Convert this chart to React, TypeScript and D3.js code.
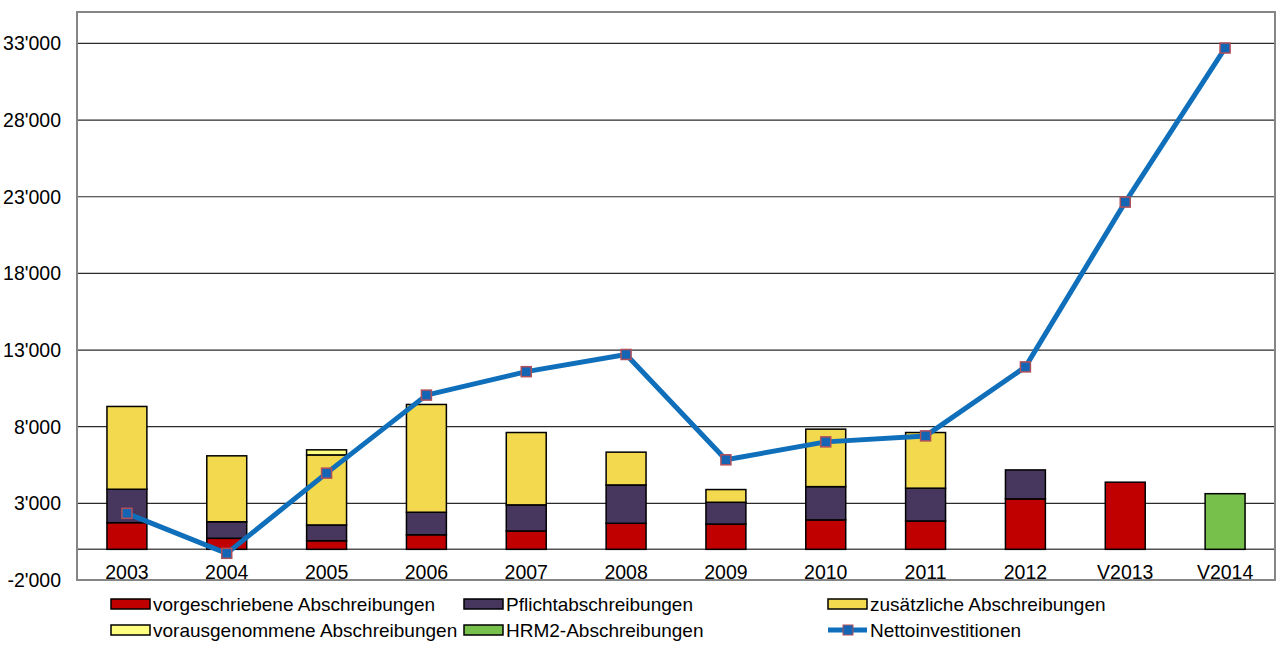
import React from "react";
import * as d3 from "d3";

const categories = ["2003", "2004", "2005", "2006", "2007", "2008", "2009", "2010", "2011", "2012", "V2013", "V2014"];
const vorgeschrieben = [1740, 720, 560, 950, 1200, 1700, 1650, 1920, 1850, 3290, 4380, 0];
const pflicht = [2180, 1080, 1030, 1470, 1700, 2500, 1420, 2170, 2140, 1890, 0, 0];
const zusaetzlich = [5400, 4300, 4570, 7030, 4720, 2140, 830, 3750, 3630, 0, 0, 0];
const vorausgenommen = [0, 0, 330, 0, 0, 0, 0, 0, 0, 0, 0, 0];
const hrm2 = [0, 0, 0, 0, 0, 0, 0, 0, 0, 0, 0, 3630];
const netto = [2350, -260, 4970, 10060, 11590, 12710, 5840, 7010, 7400, 11900, 22650, 32700];
const yTicks = [-2000, 3000, 8000, 13000, 18000, 23000, 28000, 33000];

const series = [
  { key: "vorgeschrieben", label: "vorgeschriebene Abschreibungen", values: vorgeschrieben, color: "#c00000" },
  { key: "pflicht", label: "Pflichtabschreibungen", values: pflicht, color: "#47375f" },
  { key: "zusaetzlich", label: "zusätzliche Abschreibungen", values: zusaetzlich, color: "#f2d94e" },
  { key: "vorausgenommen", label: "vorausgenommene Abschreibungen", values: vorausgenommen, color: "#ffff80" },
  { key: "hrm2", label: "HRM2-Abschreibungen", values: hrm2, color: "#77c04c" },
];

const FONT = "'Liberation Sans', Arial, sans-serif";
const FS = 19.5;
const LEGEND_FS = 19;

export default function App() {
  const ref = React.useRef<SVGSVGElement | null>(null);

  React.useEffect(() => {
    if (!ref.current) return;
    const svg = d3.select(ref.current);
    svg.selectAll("*").remove();
    const plot = { left: 77, right: 1275, top: 12, bottom: 580 };

    const x = d3.scaleBand<string>().domain(categories).range([plot.left, plot.right]).paddingInner(0.6).paddingOuter(0.3);
    const y = d3.scaleLinear().domain([-2000, 35050]).range([plot.bottom, plot.top]);

    // gridlines
    svg
      .append("g")
      .selectAll("line")
      .data(yTicks)
      .join("line")
      .attr("x1", plot.left)
      .attr("x2", plot.right)
      .attr("y1", d => y(d))
      .attr("y2", d => y(d))
      .attr("stroke", "#2b2b2b")
      .attr("stroke-width", 1.2);

    // y tick labels
    svg
      .append("g")
      .selectAll("text")
      .data(yTicks)
      .join("text")
      .attr("x", 61)
      .attr("y", d => y(d) + 7)
      .attr("text-anchor", "end")
      .attr("font-family", FONT)
      .attr("font-size", FS)
      .attr("fill", "#000")
      .text(d => d3.format(",")(d).replace(/,/g, "'").replace("\u2212", "-"));

    // zero line
    svg
      .append("line")
      .attr("x1", plot.left)
      .attr("x2", plot.right)
      .attr("y1", y(0))
      .attr("y2", y(0))
      .attr("stroke", "#555")
      .attr("stroke-width", 1.5);

    // stacked bars
    const rows = categories.map((c, i) => {
      const r: { [k: string]: number | string } = { cat: c };
      series.forEach(s => (r[s.key] = s.values[i]));
      return r;
    });
    const stack = d3.stack<{ [k: string]: number | string }>().keys(series.map(s => s.key)).value((d, k) => Number(d[k]));
    const stacked = stack(rows);
    stacked.forEach((layer, li) => {
      svg
        .append("g")
        .selectAll("rect")
        .data(layer.filter(d => d[1] - d[0] > 0))
        .join("rect")
        .attr("x", d => x(String(d.data.cat))!)
        .attr("width", x.bandwidth())
        .attr("y", d => y(d[1]))
        .attr("height", d => y(d[0]) - y(d[1]))
        .attr("fill", series[li].color)
        .attr("stroke", "#000")
        .attr("stroke-width", 1.5);
    });

    // category labels
    svg
      .append("g")
      .selectAll("text")
      .data(categories)
      .join("text")
      .attr("x", d => x(d)! + x.bandwidth() / 2)
      .attr("y", 579)
      .attr("text-anchor", "middle")
      .attr("font-family", FONT)
      .attr("font-size", FS)
      .attr("fill", "#000")
      .text(d => d);

    // line
    const pts = categories.map((c, i) => ({ cat: c, value: netto[i] }));
    const line = d3
      .line<{ cat: string; value: number }>()
      .x(d => x(d.cat)! + x.bandwidth() / 2)
      .y(d => y(d.value));
    svg
      .append("path")
      .datum(pts)
      .attr("fill", "none")
      .attr("stroke", "#0f6fba")
      .attr("stroke-width", 5)
      .attr("stroke-linejoin", "round")
      .attr("d", line);
    svg
      .append("g")
      .selectAll("rect")
      .data(pts)
      .join("rect")
      .attr("x", d => x(d.cat)! + x.bandwidth() / 2 - 5)
      .attr("y", d => y(d.value) - 5)
      .attr("width", 10)
      .attr("height", 10)
      .attr("fill", "#1565b5")
      .attr("stroke", "#b0505a")
      .attr("stroke-width", 1.5);

    // plot border
    svg
      .append("rect")
      .attr("x", plot.left)
      .attr("y", plot.top)
      .attr("width", plot.right - plot.left)
      .attr("height", plot.bottom - plot.top)
      .attr("fill", "none")
      .attr("stroke", "#868686")
      .attr("stroke-width", 2);

    // legend
    const legendItems = [
      { label: series[0].label, color: series[0].color, x: 111, y: 604 },
      { label: series[1].label, color: series[1].color, x: 464, y: 604 },
      { label: series[2].label, color: series[2].color, x: 828, y: 604 },
      { label: series[3].label, color: series[3].color, x: 111, y: 630 },
      { label: series[4].label, color: series[4].color, x: 464, y: 630 },
      { label: "Nettoinvestitionen", color: "line", x: 828, y: 630 },
    ];
    const lg = svg.append("g");
    legendItems.forEach(item => {
      if (item.color === "line") {
        lg.append("line")
          .attr("x1", item.x)
          .attr("x2", item.x + 39)
          .attr("y1", item.y)
          .attr("y2", item.y)
          .attr("stroke", "#0f6fba")
          .attr("stroke-width", 5);
        lg.append("rect")
          .attr("x", item.x + 15)
          .attr("y", item.y - 5)
          .attr("width", 10)
          .attr("height", 10)
          .attr("fill", "#1565b5")
          .attr("stroke", "#b0505a")
          .attr("stroke-width", 1);
      } else {
        lg.append("rect")
          .attr("x", item.x)
          .attr("y", item.y - 5)
          .attr("width", 39)
          .attr("height", 10)
          .attr("fill", item.color)
          .attr("stroke", "#000")
          .attr("stroke-width", 1.5);
      }
      lg.append("text")
        .attr("x", item.x + 42)
        .attr("y", item.y + 7)
        .attr("font-family", FONT)
        .attr("font-size", LEGEND_FS)
        .attr("fill", "#000")
        .text(item.label);
    });
  }, []);

  return (
    <>
      <style>{"body{margin:0}"}</style>
      <svg ref={ref} width={1280} height={655} style={{ display: "block", background: "#fff" }}></svg>
    </>
  );
}
